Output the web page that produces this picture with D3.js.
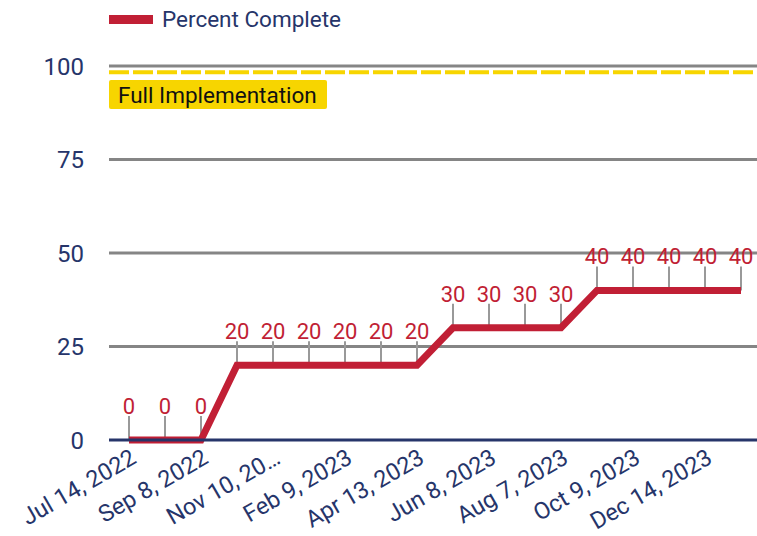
<!DOCTYPE html>
<html><head><meta charset="utf-8">
<script src="https://cdn.jsdelivr.net/npm/d3@7/dist/d3.min.js"></script>
<style>body{margin:0;background:#fff}svg{display:block;font-family:Roboto,"Noto Sans",sans-serif}</style>
</head><body>
<script>
const points = d3.range(18);
const values = [0,0,0,20,20,20,20,20,20,30,30,30,30,40,40,40,40,40];
const tickLabels = ["Jul 14, 2022","Sep 8, 2022","Nov 10, 20…","Feb 9, 2023","Apr 13, 2023","Jun 8, 2023","Aug 7, 2023","Oct 9, 2023","Dec 14, 2023"];
const tickIndices = [0,2,4,6,8,10,12,14,16];
const yTicks = [0,25,50,75,100];
const targetValue = 98.3;
const targetLabel = "Full Implementation";
const seriesName = "Percent Complete";

const W = 757, H = 536;
const navy = "#26356a", red = "#c11f35", gray = "#858585", yellow = "#f7d500";
const svg = d3.select("body").append("svg").attr("width", W).attr("height", H);
const left = 109, right = 757;
const x = d3.scalePoint().domain(points).range([111, 759]).padding(0.5);
const y = d3.scaleLinear().domain([0, 100]).range([440, 66]);

// grid
svg.append("g").selectAll("line").data(yTicks.filter(d => d > 0)).join("line")
  .attr("x1", left).attr("x2", right).attr("y1", d => y(d)).attr("y2", d => y(d))
  .attr("stroke", gray).attr("stroke-width", 3);

// y tick labels
const yAxis = d3.axisLeft(y).tickValues(yTicks).tickSize(0).tickPadding(0);
const ga = svg.append("g").attr("transform", `translate(84,0)`).call(yAxis);
ga.select(".domain").remove();
ga.selectAll("text").attr("fill", navy).attr("font-size", 24).attr("font-family", "Roboto").attr("dy", "0.35em");

// target line
svg.append("line").attr("x1", left).attr("x2", right).attr("y1", y(targetValue)).attr("y2", y(targetValue))
  .attr("stroke", yellow).attr("stroke-width", 4).attr("stroke-dasharray", "20 4");
svg.append("rect").attr("x", left).attr("y", 80).attr("width", 218).attr("height", 29).attr("rx", 2).attr("fill", yellow);
svg.append("text").attr("x", 118).attr("y", 103).attr("font-size", 22.5).attr("fill", "#111").text(targetLabel);

// connectors
svg.append("g").selectAll("line").data(points).join("line")
  .attr("x1", d => x(d)).attr("x2", d => x(d))
  .attr("y1", d => y(values[d])).attr("y2", d => y(values[d]) - 24)
  .attr("stroke", "#999").attr("stroke-width", 2);

// line
const line = d3.line().x(d => x(d)).y(d => y(values[d]));
svg.append("path").datum(points).attr("d", line).attr("fill", "none")
  .attr("stroke", red).attr("stroke-width", 7).attr("stroke-linejoin", "miter");

// baseline
svg.append("line").attr("x1", left).attr("x2", right).attr("y1", y(0)).attr("y2", y(0))
  .attr("stroke", navy).attr("stroke-width", 3);

// data labels
svg.append("g").selectAll("text").data(points).join("text")
  .attr("x", d => x(d)).attr("y", d => y(values[d]) - 26)
  .attr("text-anchor", "middle").attr("font-size", 22).attr("fill", red)
  .text(d => values[d]);

// x tick labels
svg.append("g").selectAll("text").data(tickIndices).join("text")
  .attr("transform", (d) => `translate(${x(d)},${447}) rotate(-30)`)
  .attr("text-anchor", "end").attr("dy", "0.75em")
  .attr("font-size", 23.5).attr("fill", navy)
  .text((d, i) => tickLabels[i]);

// legend
svg.append("rect").attr("x", 109).attr("y", 15).attr("width", 44).attr("height", 9).attr("fill", red);
svg.append("text").attr("x", 162).attr("y", 27).attr("font-size", 22.5).attr("fill", navy).text(seriesName);
</script>
</body></html>
